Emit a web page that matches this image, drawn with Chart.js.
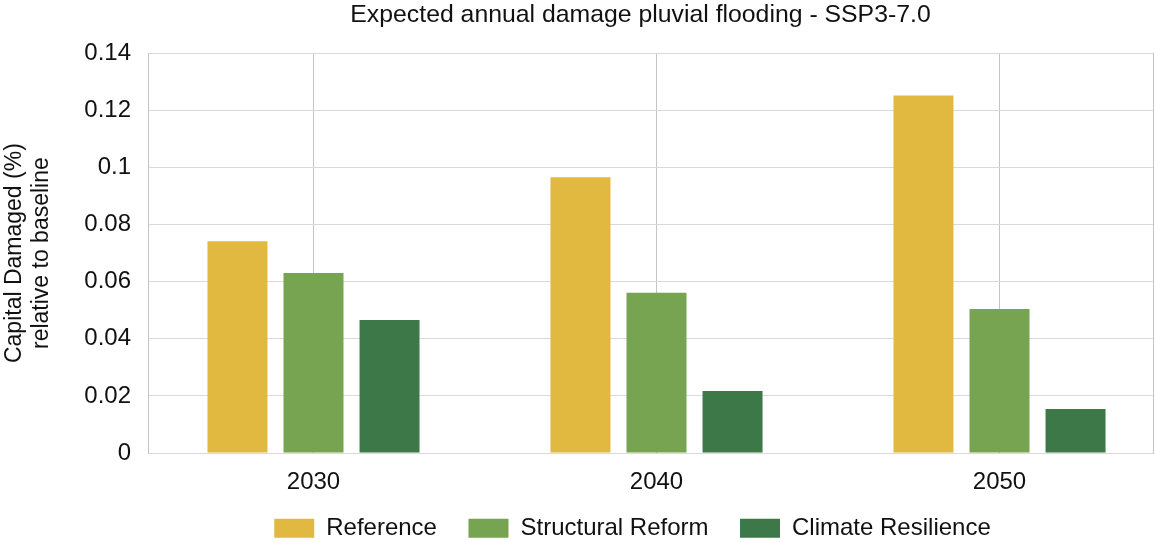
<!DOCTYPE html>
<html>
<head>
<meta charset="utf-8">
<script src="https://cdn.jsdelivr.net/npm/chart.js@4.4.1/dist/chart.umd.min.js"></script>
<style>
  html, body { margin: 0; padding: 0; background: #fff; }
  #wrap { width: 1154px; height: 543px; position: relative; }
</style>
</head>
<body>
<div id="wrap"><canvas id="c"></canvas></div>
<script>
const categories = ['2030', '2040', '2050'];
const referenceValues = [0.0742, 0.0966, 0.1252];
const structuralValues = [0.0630, 0.0561, 0.0504];
const resilienceValues = [0.0466, 0.0217, 0.0154];
const yTicks = [0, 0.02, 0.04, 0.06, 0.08, 0.1, 0.12, 0.14];
const seriesNames = ['Reference', 'Structural Reform', 'Climate Resilience'];
const seriesColors = ['#E1B940', '#77A451', '#3C7848'];
const titleText = 'Expected annual damage pluvial flooding - SSP3-7.0';
const yTitle = ['Capital Damaged (%)', 'relative to baseline'];

const toPoints = vals => vals.map((v, i) => ({ x: i, y: v }));
const allSeries = [referenceValues, structuralValues, resilienceValues];

const X_MIN = -0.4825, X_MAX = 2.4475;
const hGridColor = '#d9d9d9';
const vGridColor = '#c4c4c4';
const textFont = 'Liberation Sans, Arial, sans-serif';
const tickFont = { family: textFont, size: 24 };

const shiftBoxes = {
  id: 'shiftBoxes',
  afterLayout(chart) {
    const lg = chart.legend;
    if (lg) { lg.left += 56; lg.right += 56; lg.top -= 27; lg.bottom -= 27; }
    const tt = chart.titleBlock;
    if (tt) { tt.left += 64; tt.right += 64; }
  }
};

new Chart(document.getElementById('c'), {
  type: 'bar',
  data: {
    datasets: allSeries.map((vals, k) => ({
      label: seriesNames[k],
      data: toPoints(vals),
      backgroundColor: seriesColors[k],
      borderWidth: 0,
      barPercentage: 0.789,
      categoryPercentage: 0.665
    }))
  },
  options: {
    responsive: true,
    maintainAspectRatio: false,
    animation: false,
    layout: { padding: { left: 0, right: 1, top: 0, bottom: -34.3 } },
    plugins: {
      title: {
        display: true,
        text: titleText,
        color: '#111',
        font: { family: textFont, size: 24.8, weight: 'normal', lineHeight: 1.2 },
        padding: { top: 0, bottom: 23.5 }
      },
      legend: {
        position: 'bottom',
        labels: {
          boxWidth: 40,
          boxHeight: 19,
          padding: 31.5,
          color: '#111',
          font: { family: textFont, size: 24 }
        }
      },
      tooltip: { enabled: false }
    },
    scales: {
      x: {
        type: 'linear',
        offset: false,
        min: X_MIN,
        max: X_MAX,
        afterBuildTicks(scale) {
          scale.ticks = categories.map((c, i) => ({ value: i }));
        },
        grid: { color: vGridColor, drawTicks: false, offset: false, lineWidth: 1 },
        border: { color: hGridColor },
        ticks: {
          padding: 15,
          color: '#111',
          font: tickFont,
          autoSkip: false,
          maxRotation: 0,
          callback: v => categories[v]
        }
      },
      y: {
        min: 0,
        max: 0.14,
        afterBuildTicks(scale) {
          scale.ticks = yTicks.map(v => ({ value: v }));
        },
        afterFit(scale) { scale.width = 148; },
        grid: { color: hGridColor, drawTicks: false },
        border: { color: vGridColor },
        ticks: {
          padding: 17,
          color: '#111',
          font: tickFont,
          callback: v => String(Number(v.toFixed(2)))
        },
        title: {
          display: true,
          text: yTitle,
          color: '#111',
          font: { family: textFont, size: 23, lineHeight: 1.17 },
          padding: { top: 1, bottom: 0 }
        }
      },
      yRight: {
        position: 'right',
        min: 0,
        max: 0.14,
        afterFit(scale) { scale.width = 0; },
        grid: { display: false, drawOnChartArea: false },
        border: { display: true, color: vGridColor },
        ticks: { display: false }
      }
    }
  },
  plugins: [shiftBoxes]
});
</script>
</body>
</html>
